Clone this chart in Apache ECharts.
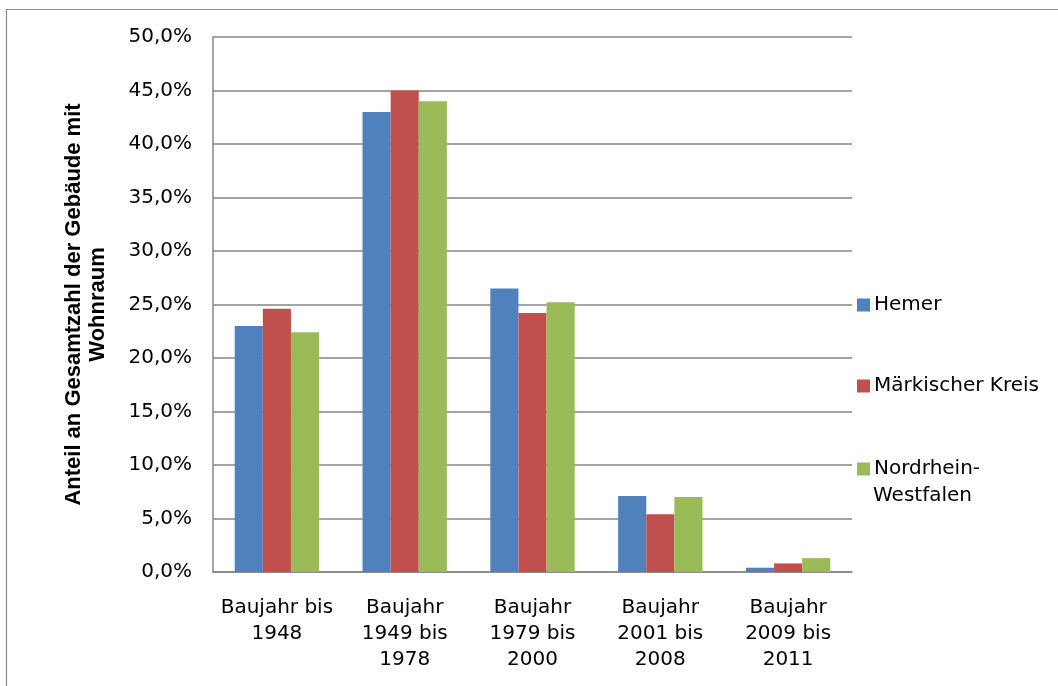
<!DOCTYPE html>
<html>
<head>
<meta charset="utf-8">
<script src="https://cdn.jsdelivr.net/npm/echarts@6/dist/echarts.min.js"></script>
<style>
  html, body { margin: 0; padding: 0; background: #ffffff; }
  #chart { width: 1058px; height: 686px; }
</style>
</head>
<body>
<div id="chart"></div>
<script>
// Baujahresklassen der Gebäude mit Wohnraum
const categories = [
  'Baujahr bis\n1948',
  'Baujahr\n1949 bis\n1978',
  'Baujahr\n1979 bis\n2000',
  'Baujahr\n2001 bis\n2008',
  'Baujahr\n2009 bis\n2011'
];
const seriesNames = ['Hemer', 'Märkischer Kreis', 'Nordrhein-Westfalen'];
// legend text, first line next to the swatch, second line below it
const legendLines = [['Hemer'], ['Märkischer Kreis'], ['Nordrhein-', 'Westfalen']];
const hemer = [23.0, 43.0, 26.5, 7.1, 0.4];
const maerkischerKreis = [24.6, 45.0, 24.2, 5.4, 0.8];
const nrw = [22.4, 44.0, 25.2, 7.0, 1.3];
const yTicks = { min: 0, max: 50, interval: 5 };

const colors = ['#4F81BD', '#C0504D', '#9BBB59'];
const font = '"DejaVu Sans", sans-serif';
const fontSize = 20;

const chart = echarts.init(document.getElementById('chart'));

const legendTops = [287, 368, 451];

function legendFor(i) {
  return {
    data: [seriesNames[i]],
    left: 852,
    top: legendTops[i],
    orient: 'vertical',
    icon: 'rect',
    itemWidth: 13,
    itemHeight: 13,
    itemGap: 0,
    selectedMode: false,
    formatter: () => legendLines[i][0],
    textStyle: {
      fontFamily: font,
      fontSize: fontSize,
      color: '#000',
      lineHeight: 26,
      padding: [0, 0, 0, -1]
    }
  };
}

// continuation lines of wrapped legend entries
const legendContinuation = [];
legendLines.forEach((lines, i) => {
  lines.slice(1).forEach((txt, k) => {
    legendContinuation.push({
      type: 'text',
      left: 873,
      top: legendTops[i] + 19 + 26 * (k + 1) - 13,
      silent: true,
      style: {
        text: txt,
        fontFamily: font,
        fontSize: fontSize,
        lineHeight: 26,
        fill: '#000',
        verticalAlign: 'top'
      }
    });
  });
});

const option = {
  animation: false,
  backgroundColor: '#ffffff',
  color: colors,
  graphic: [{
    type: 'rect',
    left: 4, top: 7,
    shape: { width: 1100, height: 720 },
    style: { fill: 'none', stroke: '#8c8c8c', lineWidth: 1.2 },
    silent: true
  }].concat(legendContinuation),
  grid: { left: 213, right: 206, top: 37, bottom: 114, containLabel: false },
  legend: [legendFor(0), legendFor(1), legendFor(2)],
  xAxis: {
    type: 'category',
    data: categories,
    axisLine: { show: true, lineStyle: { color: '#868686', width: 1.5 } },
    axisTick: { show: false },
    axisLabel: {
      interval: 0,
      margin: 23,
      fontFamily: font,
      fontSize: fontSize,
      color: '#000',
      lineHeight: 26
    }
  },
  yAxis: {
    type: 'value',
    min: yTicks.min,
    max: yTicks.max,
    interval: yTicks.interval,
    name: 'Anteil an Gesamtzahl der Gebäude mit\nWohnraum',
    nameLocation: 'middle',
    nameGap: 103,
    nameTextStyle: {
      fontFamily: '"Liberation Sans", Arial, sans-serif',
      fontWeight: 'bold',
      fontSize: 22,
      color: '#000',
      lineHeight: 24
    },
    axisLine: { show: true, lineStyle: { color: '#868686', width: 1.5 } },
    axisTick: { show: false },
    splitLine: { show: true, lineStyle: { color: '#868686', width: 1.5 } },
    axisLabel: {
      margin: 21,
      fontFamily: font,
      fontSize: fontSize,
      color: '#000',
      formatter: v => v.toFixed(1).replace('.', ',') + '%'
    }
  },
  series: [
    { name: seriesNames[0], type: 'bar', data: hemer, barGap: '0%', barCategoryGap: '34%' },
    { name: seriesNames[1], type: 'bar', data: maerkischerKreis, barGap: '0%', barCategoryGap: '34%' },
    { name: seriesNames[2], type: 'bar', data: nrw, barGap: '0%', barCategoryGap: '34%' }
  ]
};

chart.setOption(option);
</script>
</body>
</html>
